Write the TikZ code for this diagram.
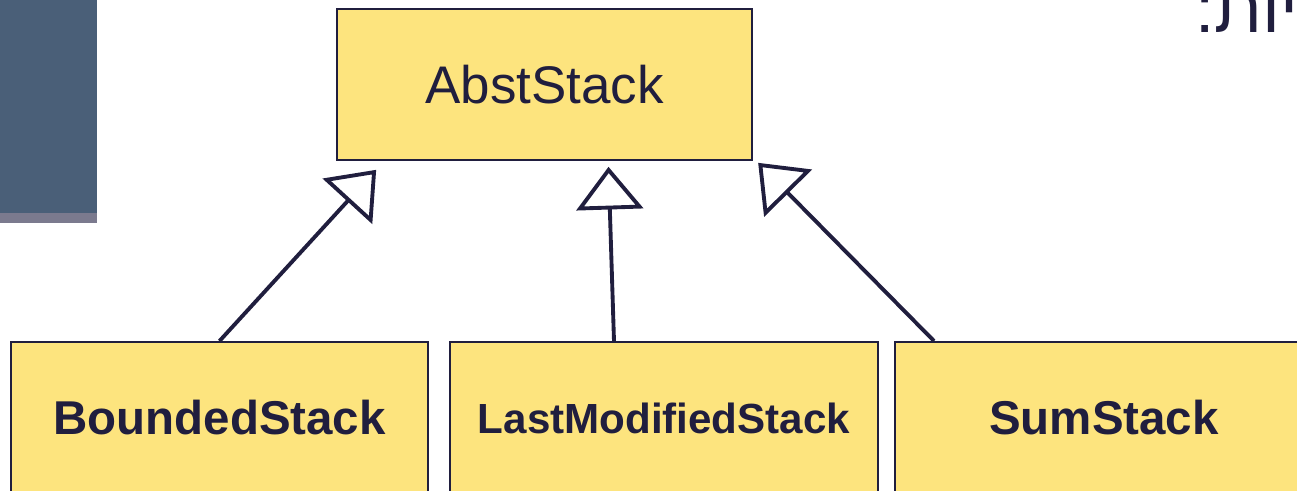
\documentclass[tikz,border=0pt]{standalone}
\usepackage{fontspec}
\setmainfont{Liberation Sans}
\newfontfamily\hebfont[Script=Hebrew]{Liberation Sans}
\TeXXeTstate=1
\usetikzlibrary{arrows.meta}
\definecolor{inkNavy}{RGB}{32,30,62}
\definecolor{stackFill}{RGB}{253,228,126}
\definecolor{panelBlue}{RGB}{74,95,120}
\definecolor{panelStripe}{RGB}{123,122,142}

\tikzset{every picture/.style={line width=0.75pt}}

\begin{document}
\begin{tikzpicture}[x=0.75pt,y=0.75pt,yscale=-1,xscale=1,
    classbox/.style={draw=inkNavy,line width=1.5pt,fill=stackFill,text=inkNavy,inner sep=0pt,minimum height=114pt},
    inherit/.style={draw=inkNavy,line width=2.9pt,-{Triangle[open,length=32pt,width=50pt]}}]
    \useasboundingbox (0,0) rectangle (1297,490);
    \clip (0,0) rectangle (1297,490);
    
    %Shape: Rectangle [id:panel] 
    \fill [panelBlue] (0,0) rectangle (97,213);
    \fill [panelStripe] (0,213) rectangle (97,223);
    
    % Text Node
    \node (abst) [classbox,minimum width=311pt,minimum height=113pt] at (544.5,84.5) {\fontsize{39.7pt}{44pt}\selectfont AbstStack};
    % Text Node
    \node (bounded) [classbox,minimum width=313pt] at (219.5,418) {\fontsize{35.6pt}{40pt}\selectfont\bfseries BoundedStack};
    % Text Node
    \node (last) [classbox,minimum width=321pt] at (664,418) {\fontsize{31.6pt}{36pt}\selectfont\bfseries LastModifiedStack};
    % Text Node
    \node (sum) [classbox,minimum width=313.5pt] at (1104,418) {\fontsize{35.6pt}{40pt}\selectfont\bfseries SumStack};
    % Text Node
    \node (heading) [anchor=base west,inner sep=0pt,text=inkNavy] at (1195,32) {\hebfont\fontsize{52pt}{56pt}\selectfont\beginR יות:\endR};
    
    %Straight Lines [id:inherit-bounded] 
    \draw [inherit] (bounded.north) -- ([xshift=30pt,yshift=6.75pt]abst.south west);
    %Straight Lines [id:inherit-last] 
    \draw [inherit] ([xshift=-37.5pt]last.north) -- ([xshift=48pt,yshift=4.5pt]abst.south);
    %Straight Lines [id:inherit-sum] 
    \draw [inherit] ([xshift=30pt]sum.north west) -- ([xshift=4pt,yshift=1.5pt]abst.south east);
    
    \end{tikzpicture}
\end{document}
